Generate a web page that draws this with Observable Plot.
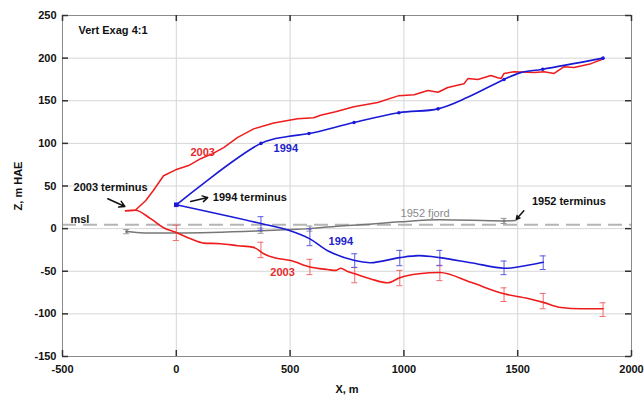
<!DOCTYPE html>
<html>
<head>
<meta charset="utf-8">
<script src="https://cdn.jsdelivr.net/npm/d3@7"></script>
<script src="https://cdn.jsdelivr.net/npm/@observablehq/plot@0.6"></script>
<style>
  html, body { margin: 0; padding: 0; background: #fff; }
</style>
</head>
<body>
<div id="chart"></div>
<script>
// ---- tick values ----
const xTicks = [-500, 0, 500, 1000, 1500, 2000];
const yTicks = [-150, -100, -50, 0, 50, 100, 150, 200, 250];
const mslLevel = 4.5;

// ---- 2003 ice surface ----
const surf2003X = [-223, -180, -134, -100, -56, -3, 54, 107, 160, 208, 270, 340, 428, 533, 604, 634, 700, 780, 885, 978, 1045, 1105, 1150, 1193, 1264, 1281, 1325, 1382, 1413, 1427, 1440, 1484, 1572, 1616, 1660, 1704, 1748, 1822, 1875];
const surf2003Z = [21, 21.5, 33, 45, 62, 69, 74, 82, 88, 95, 107, 117, 124, 129, 130, 133, 137, 143, 148, 156, 157, 162, 160, 165.5, 170, 176, 175, 179.6, 177, 176, 182, 184, 183, 184, 182, 190, 189, 193.5, 199];

// ---- 2003 bed ----
const bed2003X = [-223, -180, -113, -56, 0, 63, 121, 195, 270, 340, 384, 428, 503, 587, 665, 700, 723, 750, 784, 854, 929, 982, 1066, 1158, 1294, 1440, 1545, 1612, 1690, 1778, 1875];
const bed2003Z = [21, 21.5, 11.7, 1, -4.5, -12, -17, -17.7, -20, -22, -29.5, -34, -37.5, -45, -48, -49, -46.5, -50, -53, -59, -63.5, -57.5, -53, -51.5, -63, -76.5, -82, -86.5, -92.5, -94, -94];
const err2003X = [0, 372, 587, 784, 982, 1158, 1440, 1612, 1875];
const err2003Z = [-5, -25, -45, -54.5, -58, -52, -77.5, -85, -95];
const err2003E = [9, 9, 9, 9, 9, 9, 8, 9, 8];

// ---- 1994 ice surface ----
const surf1994X = [0, 372, 489, 583, 781, 978, 1150, 1280, 1440, 1513, 1610, 1875];
const surf1994Z = [28, 100, 108, 111.5, 124.5, 136, 140.5, 154, 175, 183, 187, 200];
const mark1994X = [0, 372, 583, 781, 978, 1150, 1440, 1610, 1875];
const mark1994Z = [28, 100, 111.5, 124.5, 136, 140.5, 175, 187, 200];

// ---- 1994 bed ----
const bed1994X = [0, 372, 500, 587, 665, 784, 854, 982, 1066, 1158, 1294, 1440, 1500, 1612];
const bed1994Z = [28, 6, -2.5, -12, -26, -37.5, -40, -34, -31.7, -34, -40, -46.5, -45, -39.5];
const err1994X = [372, 587, 784, 982, 1158, 1440, 1612];
const err1994Z = [6, -10, -37.5, -34.5, -34.5, -46, -40];
const err1994E = [8, 10, 8, 9, 9, 8, 8];

// ---- 1952 fjord ----
const fjord1952X = [-218, -143, 5, 372, 500, 587, 736, 810, 982, 1158, 1440, 1492];
const fjord1952Z = [-3.5, -5, -5, -2.5, -1, 0, 3.5, 4.5, 8, 10.5, 9, 9.5];
const err1952X = [-218, 372, 587, 1440];
const err1952Z = [-3.5, -2.5, 0, 9];
const err1952E = [2.5, 3, 3, 3];

// ---- annotations ----
const labelText = ["Vert Exag 4:1", "2003", "1994", "2003 terminus", "1994 terminus", "msl", "1994", "2003", "1952 fjord", "1952 terminus"];
const labelX = [-430, 116, 481, -289, 323, -465, 723, 467, 1093, 1725];
const labelZ = [232, 89, 94, 48, 36, 10.5, -15, -52, 17.6, 31.7];
const labelKind = ["black", "red", "blue", "black", "black", "black", "blue", "red", "gray", "black"];
const labelAnchor = ["start", "middle", "middle", "middle", "middle", "start", "middle", "middle", "middle", "middle"];

const arrowX1 = [-301, 63, 1527];
const arrowZ1 = [35, 31.7, 21];
const arrowX2 = [-226, 138, 1494];
const arrowZ2 = [26, 36.4, 11];

// ---- build tables ----
const zip = (xs, ys) => xs.map((x, i) => ({x, z: ys[i]}));
const errs = (xs, ys, es) => xs.map((x, i) => ({x, z: ys[i], lo: ys[i] - es[i], hi: ys[i] + es[i]}));
const surf2003 = zip(surf2003X, surf2003Z);
const bed2003 = zip(bed2003X, bed2003Z);
const surf1994 = zip(surf1994X, surf1994Z);
const bed1994 = zip(bed1994X, bed1994Z);
const fjord1952 = zip(fjord1952X, fjord1952Z);
const marks1994 = zip(mark1994X, mark1994Z);
const e2003 = errs(err2003X, err2003Z, err2003E);
const e1994 = errs(err1994X, err1994Z, err1994E);
const e1952 = errs(err1952X, err1952Z, err1952E);
const labels = labelText.map((t, i) => ({t, x: labelX[i], z: labelZ[i], kind: labelKind[i], anchor: labelAnchor[i]}));
const arrows = arrowX1.map((x1, i) => ({x1, z1: arrowZ1[i], x2: arrowX2[i], z2: arrowZ2[i]}));

const RED = "#ee1c1c", BLUE = "#1a1ad6", GRAY = "#777777";
const colorOf = {black: "#111", red: "#e52a2a", blue: "#2222cc", gray: "#8a8a8a"};

const W = 644, H = 401, ML = 62, MR = 13, MT = 15, MB = 45;
const PW = W - ML - MR, PH = H - MT - MB;

function errorBars(data, color) {
  return [
    Plot.ruleX(data, {x: "x", y1: "lo", y2: "hi", stroke: color, strokeWidth: 1}),
    Plot.ruleY(data, {y: "lo", x1: "x", x2: "x", insetLeft: -3, insetRight: -3, stroke: color, strokeWidth: 1}),
    Plot.ruleY(data, {y: "hi", x1: "x", x2: "x", insetLeft: -3, insetRight: -3, stroke: color, strokeWidth: 1})
  ];
}

function labelMarks() {
  const out = [];
  for (const kind of Object.keys(colorOf)) {
    for (const anchor of ["start", "middle"]) {
      const sub = labels.filter(d => d.kind === kind && d.anchor === anchor);
      if (!sub.length) continue;
      out.push(Plot.text(sub, {x: "x", y: "z", text: "t", fill: colorOf[kind], textAnchor: anchor,
        fontWeight: kind === "gray" ? "normal" : "bold", fontSize: 11}));
    }
  }
  return out;
}

const chart = Plot.plot({
  width: W, height: H,
  marginLeft: ML, marginRight: MR, marginTop: MT, marginBottom: MB,
  style: {fontFamily: "'Liberation Sans', Arial, sans-serif", fontSize: "11px", background: "#fff", color: "#111"},
  x: {domain: [-500, 2000]},
  y: {domain: [-150, 250]},
  marks: [
    Plot.gridX(xTicks, {stroke: "#d6d6d6", strokeOpacity: 1}),
    Plot.gridY(yTicks, {stroke: "#d6d6d6", strokeOpacity: 1}),
    Plot.ruleY([mslLevel], {stroke: "#b5b5b5", strokeWidth: 2, strokeDasharray: "14,7"}),
    // 1952 fjord
    Plot.line(fjord1952, {x: "x", y: "z", stroke: GRAY, strokeWidth: 1.5, curve: "monotone-x"}),
    ...errorBars(e1952, "#999"),
    Plot.dot(e1952, {x: "x", y: "z", r: 1.5, fill: GRAY}),
    // 2003
    ...errorBars(e2003, "#f06a6a"),
    Plot.line(surf2003, {x: "x", y: "z", stroke: RED, strokeWidth: 1.5}),
    Plot.line(bed2003, {x: "x", y: "z", stroke: RED, strokeWidth: 1.6, curve: "monotone-x"}),
    // 1994
    ...errorBars(e1994, "#5a5ae0"),
    Plot.line(surf1994, {x: "x", y: "z", stroke: BLUE, strokeWidth: 1.6, curve: "catmull-rom"}),
    Plot.line(bed1994, {x: "x", y: "z", stroke: BLUE, strokeWidth: 1.6, curve: "catmull-rom"}),
    Plot.dot(marks1994, {x: "x", y: "z", r: 1.8, fill: BLUE}),
    Plot.dot(bed1994.slice(0, 1), {x: "x", y: "z", r: 2.6, fill: BLUE, symbol: "square"}),
    // frame + inward ticks
    Plot.frame({stroke: "#8a8a8a"}),
    Plot.tickX(xTicks, {x: d => d, insetBottom: PH - 6, stroke: "#333", strokeWidth: 1.5}),
    Plot.tickX(xTicks, {x: d => d, insetTop: PH - 6, stroke: "#333", strokeWidth: 1.5}),
    Plot.tickY(yTicks, {y: d => d, insetRight: PW - 6, stroke: "#333", strokeWidth: 1.5}),
    Plot.tickY(yTicks, {y: d => d, insetLeft: PW - 6, stroke: "#333", strokeWidth: 1.5}),
    Plot.axisX(xTicks, {tickSize: 0, tickPadding: 9, tickFormat: d => String(d), fontWeight: "bold", label: "X, m", labelAnchor: "center", labelArrow: "none", labelOffset: 36}),
    Plot.axisY(yTicks, {tickSize: 0, tickPadding: 6, tickFormat: d => String(d), fontWeight: "bold", label: "Z, m HAE", labelAnchor: "center", labelArrow: "none", labelOffset: 48}),
    // annotations
    Plot.arrow(arrows, {x1: "x1", y1: "z1", x2: "x2", y2: "z2", stroke: "#111", strokeWidth: 1.5, headLength: 7}),
    ...labelMarks()
  ]
});

document.getElementById("chart").appendChild(chart);
</script>
</body>
</html>
